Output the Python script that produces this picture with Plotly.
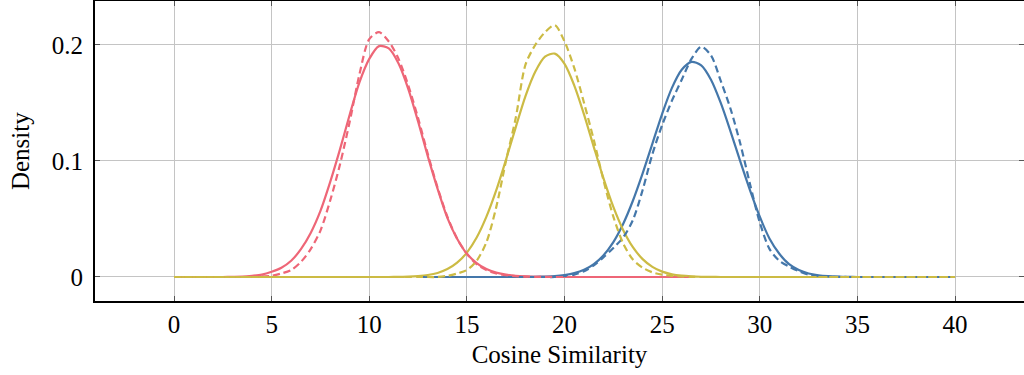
import numpy as np
import plotly.graph_objects as go

# Sample positions (cosine similarity) for each distribution
X_RED = np.arange(0, 26.51, 0.5)
X_YELLOW = np.arange(0, 40.01, 0.5)
X_BLUE = np.arange(12.5, 40.01, 0.5)

# Density estimates: solid = fitted, dashed = observed
RED_SOLID = [0, 0, 0, 0, 0, 0, 0.0001, 0.0003, 0.001, 0.002, 0.0045, 0.008, 0.014, 0.024,
             0.038, 0.057, 0.082, 0.110, 0.140, 0.168, 0.188, 0.199, 0.197, 0.184, 0.162,
             0.134, 0.104, 0.076, 0.051, 0.033, 0.020, 0.012, 0.0068, 0.0038, 0.002, 0.001,
             0.0005, 0.0002, 0.0001, 0, 0, 0, 0, 0, 0, 0, 0, 0, 0, 0, 0, 0, 0, 0]
RED_DASHED = [0, 0, 0, 0, 0, 0, 0, 0, 0, 0.0005, 0.001, 0.003, 0.006, 0.013, 0.024, 0.040,
              0.066, 0.097, 0.134, 0.175, 0.205, 0.211, 0.203, 0.188, 0.165, 0.137, 0.106,
              0.077, 0.052, 0.033, 0.020, 0.011, 0.006, 0.003, 0.0015, 0.0007, 0.0003, 0.0001,
              0, 0, 0, 0, 0, 0, 0, 0, 0, 0, 0, 0, 0, 0, 0, 0]
YELLOW_SOLID = [0] * 23 + [0.0001, 0.0003, 0.0008, 0.0017, 0.0035, 0.0068, 0.0123, 0.021,
                           0.034, 0.052, 0.0746, 0.101, 0.129, 0.156, 0.177, 0.190, 0.1925,
                           0.1837, 0.165, 0.140, 0.112, 0.0848, 0.0604, 0.0406, 0.0257, 0.0154,
                           0.0087, 0.0046, 0.0023, 0.0011, 0.0005, 0.0002, 0.0001] + [0] * 25
YELLOW_DASHED = [0] * 28 + [0.001, 0.003, 0.006, 0.014, 0.030, 0.060, 0.100, 0.137, 0.183,
                            0.200, 0.211, 0.217, 0.203, 0.180, 0.150, 0.118, 0.083, 0.052,
                            0.029, 0.015, 0.008, 0.004, 0.002, 0.001, 0.0004, 0.0001] + [0] * 27
BLUE_SOLID = [0] * 11 + [0.0001, 0.0002, 0.0004, 0.0008, 0.0017, 0.0033, 0.0062, 0.0111,
                         0.0188, 0.0301, 0.0457, 0.0657, 0.0893, 0.115, 0.1407, 0.163, 0.1786,
                         0.1854, 0.1824, 0.170, 0.150, 0.1256, 0.0996, 0.0747, 0.052, 0.033,
                         0.020, 0.011, 0.006, 0.003, 0.0015, 0.0007, 0.0003, 0.0001] + [0] * 11
BLUE_DASHED = [0] * 15 + [0.001, 0.002, 0.005, 0.010, 0.017, 0.025, 0.034, 0.049, 0.075,
                          0.106, 0.131, 0.152, 0.170, 0.188, 0.1985, 0.191, 0.169, 0.145,
                          0.115, 0.080, 0.047, 0.024, 0.014, 0.009, 0.005, 0.002, 0.001,
                          0.0004, 0.0001] + [0] * 12

X_TICKS = [0, 5, 10, 15, 20, 25, 30, 35, 40]
Y_TICKS = [0, 0.1, 0.2]
Y_TICK_TEXT = ["0", "0.1", "0.2"]

RED = "#EE6677"
YELLOW = "#CCBB44"
BLUE = "#4477AA"

FONT = "Liberation Serif"
DASH = "7px,4px"

fig = go.Figure()

series = [
    (X_BLUE, BLUE_SOLID, BLUE, "solid"),
    (X_RED, RED_SOLID, RED, "solid"),
    (X_YELLOW, YELLOW_SOLID, YELLOW, "solid"),
    (X_BLUE, BLUE_DASHED, BLUE, DASH),
    (X_RED, RED_DASHED, RED, DASH),
    (X_YELLOW, YELLOW_DASHED, YELLOW, DASH),
]
for xs, ys, color, dash in series:
    fig.add_trace(go.Scatter(
        x=xs, y=ys, mode="lines",
        line=dict(color=color, width=2.2, dash=dash, shape="spline", smoothing=0.8),
        showlegend=False, hoverinfo="skip",
    ))

# Invisible helper trace so the right-hand tick marks can be drawn
fig.add_trace(go.Scatter(x=[0], y=[0], yaxis="y2", mode="markers",
                         marker=dict(opacity=0), showlegend=False, hoverinfo="skip"))

fig.update_layout(
    width=1024, height=375,
    margin=dict(l=95, r=0, t=1, b=74),
    paper_bgcolor="white", plot_bgcolor="white",
    font=dict(family=FONT, size=25, color="black"),
    xaxis=dict(
        range=[-4.046, 43.53],
        tickvals=X_TICKS,
        showgrid=True, gridcolor="#c4c4c4", gridwidth=1,
        zeroline=False,
        showline=True, linecolor="black", linewidth=2, mirror="ticks",
        ticks="inside", ticklen=5, tickcolor="#555555", tickwidth=1,
        tickfont=dict(family=FONT, size=25),
        title=dict(text="Cosine Similarity", font=dict(family=FONT, size=25), standoff=8),
    ),
    yaxis=dict(
        range=[-0.0207, 0.2379],
        tickvals=Y_TICKS, ticktext=Y_TICK_TEXT,
        showgrid=True, gridcolor="#c4c4c4", gridwidth=1,
        zeroline=False,
        showline=True, linecolor="black", linewidth=2, mirror=False,
        ticks="inside", ticklen=5, tickcolor="#555555", tickwidth=1,
        ticklabelstandoff=5,
        tickfont=dict(family=FONT, size=25),
    ),
    yaxis2=dict(
        overlaying="y", side="right", matches="y",
        tickvals=Y_TICKS, showticklabels=False, showgrid=False, zeroline=False,
        showline=False, ticks="inside", ticklen=5, tickcolor="#555555", tickwidth=1,
    ),
    annotations=[dict(
        text="Density", textangle=-90, showarrow=False,
        xref="paper", yref="paper", x=-0.0807, y=0.5,
        xanchor="center", yanchor="middle",
        font=dict(family=FONT, size=25, color="black"),
    )],
)

fig.write_html("out.html")
